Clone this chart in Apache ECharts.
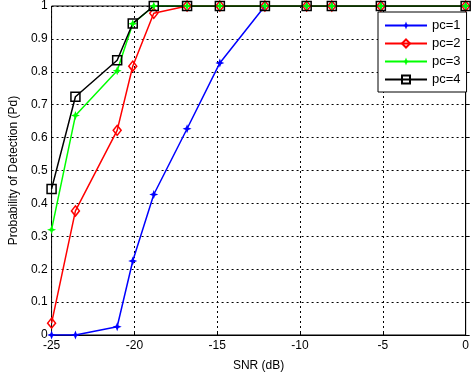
<!DOCTYPE html>
<html lang="en">
<head>
    <meta charset="UTF-8">
    <title>pd vs snr</title>
    <script src="https://cdn.jsdelivr.net/npm/echarts@6/dist/echarts.min.js"></script>
    <style>
        html, body { margin: 0; padding: 0; background: #fff; }
        #main { width: 472px; height: 377px; }
    </style>
</head>
<body>
<div id="main"></div>
<script>
    // SNR points (dB)
    var snr = [-25, -23.56, -21.04, -20.1, -18.83, -16.82, -14.84, -12.12, -9.6, -8.08, -5.12, 0];
    // detection probability per pc
    var pc1 = [0, 0, 0.025, 0.225, 0.427, 0.627, 0.827, 1, 1, 1, 1, 1];
    var pc2 = [0.036, 0.377, 0.622, 0.817, 0.978, 1, 1, 1, 1, 1, 1, 1];
    var pc3 = [0.32, 0.667, 0.803, 0.946, 1, 1, 1, 1, 1, 1, 1, 1];
    var pc4 = [0.444, 0.724, 0.835, 0.947, 1, 1, 1, 1, 1, 1, 1, 1];
    var names = ['pc=1', 'pc=2', 'pc=3', 'pc=4'];

    var starPath = 'path://M0,-5 L1.4,-1.4 L5,0 L1.4,1.4 L0,5 L-1.4,1.4 L-5,0 L-1.4,-1.4 Z';

    function pairs(ys) {
        var out = [];
        for (var i = 0; i < snr.length; i++) {
            out.push([snr[i], ys[i]]);
        }
        return out;
    }

    var myChart = echarts.init(document.getElementById('main'));
    var font = 'Liberation Sans, Arial, sans-serif';
    var gridLine = {show: true, lineStyle: {color: '#000', type: [2, 3], width: 1}};

    var option = {
        animation: false,
        textStyle: {fontFamily: font},
        grid: {
            left: 44, right: 5, top: 6, bottom: 36,
            show: true, borderColor: '#000', borderWidth: 1,
            containLabel: false
        },
        legend: {
            data: names,
            orient: 'vertical',
            left: 378, top: 12,
            itemWidth: 42, itemHeight: 10, itemGap: 5,
            padding: [7, 6, 6, 6],
            backgroundColor: '#fff',
            borderColor: '#000', borderWidth: 1,
            textStyle: {fontFamily: font, fontSize: 13, color: '#000'}
        },
        xAxis: {
            type: 'value',
            min: -25, max: 0, interval: 5,
            name: 'SNR (dB)', nameLocation: 'middle', nameGap: 25,
            nameTextStyle: {fontSize: 12, color: '#000'},
            axisLine: {show: true, onZero: false, lineStyle: {color: '#000'}},
            axisTick: {show: true, inside: true, length: 4, lineStyle: {color: '#000'}},
            axisLabel: {fontSize: 12, color: '#000', margin: 5},
            splitLine: gridLine
        },
        yAxis: {
            type: 'value',
            min: 0, max: 1, interval: 0.1,
            name: 'Probability of Detection (Pd)', nameLocation: 'middle', nameGap: 31,
            nameTextStyle: {fontSize: 12, color: '#000'},
            axisLine: {show: true, lineStyle: {color: '#000'}},
            axisTick: {show: true, inside: true, length: 4, lineStyle: {color: '#000'}},
            axisLabel: {fontSize: 12, color: '#000', margin: 4,
                formatter: function (v) { return String(Math.round(v * 10) / 10); }},
            splitLine: gridLine
        },
        series: [
            {
                name: names[0], type: 'line', data: pairs(pc1),
                symbol: starPath, symbolSize: 9,
                lineStyle: {color: '#0000ff', width: 1.5},
                itemStyle: {color: '#0000ff'}
            },
            {
                name: names[1], type: 'line', data: pairs(pc2),
                symbol: 'diamond', symbolSize: [8, 10],
                lineStyle: {color: '#ff0000', width: 1.5},
                itemStyle: {color: 'rgba(255,255,255,0)', borderColor: '#ff0000', borderWidth: 1.5}
            },
            {
                name: names[2], type: 'line', data: pairs(pc3),
                symbol: starPath, symbolSize: 9,
                lineStyle: {color: '#00ff00', width: 1.5},
                itemStyle: {color: '#00ff00'}
            },
            {
                name: names[3], type: 'line', data: pairs(pc4),
                symbol: 'rect', symbolSize: 9,
                lineStyle: {color: '#000', width: 1.5},
                itemStyle: {color: 'rgba(255,255,255,0)', borderColor: '#000', borderWidth: 1.5}
            }
        ]
    };

    myChart.setOption(option);
</script>
</body>
</html>
